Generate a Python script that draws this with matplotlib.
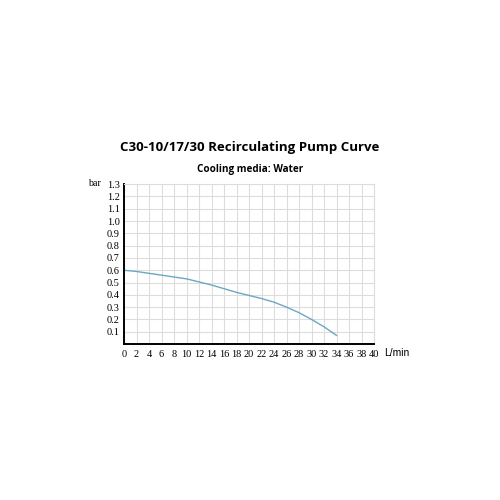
import matplotlib
matplotlib.use("Agg")
import matplotlib.pyplot as plt
import numpy as np

# flow (L/min) vs pressure (bar)
flow = [0, 2, 4, 6, 8, 10, 12, 14, 16, 18, 20, 22, 24, 26, 28, 30, 32, 34]
pressure = [0.60, 0.59, 0.575, 0.56, 0.545, 0.53, 0.505, 0.48, 0.45, 0.42,
            0.395, 0.37, 0.34, 0.30, 0.255, 0.20, 0.14, 0.07]

x_ticks = list(range(0, 41, 2))
y_ticks = [0.1, 0.2, 0.3, 0.4, 0.5, 0.6, 0.7, 0.8, 0.9, 1.0, 1.1, 1.2, 1.3]

fig = plt.figure(figsize=(5, 5), dpi=100)
ax = fig.add_axes([0.248, 0.312, 0.5, 0.3196])

ax.plot(flow, pressure, color='#6aa8c2', lw=1.0)

ax.set_xlim(0, 40)
ax.set_ylim(0, 1.3)
ax.set_xticks(x_ticks)
ax.set_yticks(y_ticks)
ax.set_xticklabels([str(v) for v in x_ticks], family='Liberation Serif', fontsize=7.4)
ax.set_yticklabels([f"{v:.1f}" for v in y_ticks], family='Liberation Serif', fontsize=7.4)
ax.tick_params(axis='x', length=0, pad=4.5)
ax.tick_params(axis='y', length=0, pad=3)
ax.grid(True, color='#dddddd', lw=0.8)
ax.set_axisbelow(True)

for s in ['top', 'right']:
    ax.spines[s].set_color('#dddddd')
    ax.spines[s].set_linewidth(0.8)
for s in ['left', 'bottom']:
    ax.spines[s].set_color('black')
    ax.spines[s].set_linewidth(1.4)

fig.text(0.5, 0.704, 'C30-10/17/30 Recirculating Pump Curve', ha='center', va='center',
         family='Open Sans', fontweight='bold', fontsize=9.5)
fig.text(0.5, 0.661, 'Cooling media: Water', ha='center', va='center',
         family='Open Sans', fontweight='bold', fontsize=7.1)
fig.text(0.202, 0.632, 'bar', ha='right', va='center', family='Liberation Serif', fontsize=7.2)
fig.text(0.768, 0.295, 'L/min', ha='left', va='center', family='Liberation Sans', fontsize=7.4)

fig.savefig('out.png', dpi=100, facecolor='white')
